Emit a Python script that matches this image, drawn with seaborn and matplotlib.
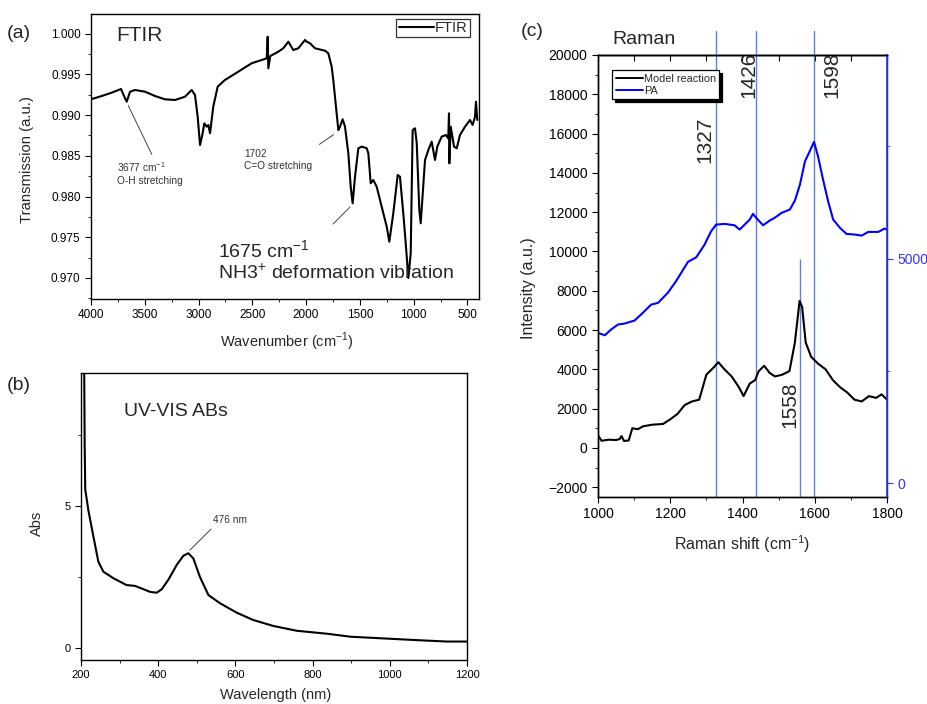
import numpy as np
import pandas as pd
import matplotlib
matplotlib.use("Agg")
import matplotlib.pyplot as plt
from matplotlib.ticker import MultipleLocator, FormatStrFormatter
from matplotlib.lines import Line2D
import seaborn as sns

# ---------------- data ----------------
ftir_wavenumber = [4000, 3900, 3808, 3721, 3690, 3668, 3637, 3591, 3498, 3405, 3312, 3219, 3126,
                   3064, 3033, 3008, 2986, 2965, 2946, 2924, 2909, 2893, 2863, 2822, 2754, 2630,
                   2506, 2413, 2366, 2357, 2351, 2333, 2258, 2212, 2165, 2119, 2072, 2010, 1994,
                   1963, 1917, 1824, 1793, 1762, 1747, 1722, 1700, 1685, 1660, 1638, 1607, 1585,
                   1567, 1545, 1514, 1483, 1436, 1421, 1399, 1375, 1343, 1297, 1250, 1226, 1189,
                   1148, 1127, 1096, 1071, 1049, 1027, 1009, 987, 971, 947, 934, 915, 894, 863,
                   832, 801, 780, 739, 699, 678, 671, 668, 655, 624, 599, 569, 522, 476, 451,
                   429, 420, 408]
ftir_transmission = [0.99195, 0.99235, 0.99276, 0.99321, 0.99226, 0.99165, 0.99288, 0.99309,
                     0.99288, 0.99235, 0.99194, 0.99186, 0.99226, 0.99309, 0.99247, 0.98981,
                     0.98633, 0.98756, 0.98899, 0.98858, 0.98879, 0.98777, 0.99104, 0.99350,
                     0.99432, 0.99534, 0.99637, 0.99677, 0.99698, 0.99963, 0.99575, 0.99726,
                     0.99779, 0.99821, 0.99902, 0.99800, 0.99821, 0.99923, 0.99902, 0.99882,
                     0.99821, 0.99791, 0.99759, 0.99595, 0.99431, 0.99104, 0.98817, 0.98858,
                     0.98949, 0.98858, 0.98531, 0.98120, 0.97917, 0.98244, 0.98593, 0.98613,
                     0.98593, 0.98531, 0.98163, 0.98203, 0.98120, 0.97875, 0.97630, 0.97446,
                     0.97794, 0.98265, 0.98244, 0.97794, 0.97384, 0.97000, 0.97303, 0.98817,
                     0.98838, 0.98654, 0.97835, 0.97672, 0.98040, 0.98449, 0.98572, 0.98674,
                     0.98449, 0.98613, 0.98736, 0.98756, 0.98715, 0.99022, 0.98408, 0.98858,
                     0.98613, 0.98593, 0.98756, 0.98858, 0.98940, 0.98879, 0.98981, 0.99165,
                     0.98940]

uv_wavelength = [208, 209.5, 211, 219, 232, 245, 258, 284, 318, 340, 357, 379, 396, 409, 426,
                 448, 465, 478, 491, 508, 530, 560, 603, 646, 698, 759, 841, 898, 984, 1070,
                 1148, 1200]
uv_abs = [10.5, 7.2, 5.6, 4.87, 3.95, 3.05, 2.70, 2.47, 2.23, 2.20, 2.11, 1.99, 1.96, 2.08, 2.41,
          2.94, 3.26, 3.35, 3.17, 2.52, 1.88, 1.59, 1.26, 1.00, 0.79, 0.62, 0.51, 0.41, 0.35,
          0.29, 0.24, 0.24]

raman_shift_model = [1000, 1010, 1030, 1050, 1060, 1065, 1072, 1085, 1095, 1110, 1125, 1150,
                     1180, 1200, 1220, 1240, 1260, 1280, 1300, 1320, 1333, 1350, 1370, 1390,
                     1403, 1420, 1435, 1445, 1460, 1475, 1490, 1510, 1530, 1545, 1558, 1565,
                     1575, 1590, 1610, 1630, 1650, 1670, 1690, 1710, 1730, 1750, 1770, 1785, 1800]
raman_model = [636, 364, 418, 400, 450, 600, 350, 380, 1000, 950, 1100, 1180, 1218, 1454, 1727,
               2181, 2363, 2454, 3727, 4090, 4363, 4000, 3636, 3090, 2636, 3272, 3454, 3909,
               4181, 3818, 3636, 3727, 3909, 5363, 7480, 7181, 5363, 4636, 4272, 4000, 3454,
               3090, 2818, 2454, 2363, 2636, 2545, 2727, 2454]

raman_shift_pa = [1000, 1019, 1036, 1055, 1073, 1101, 1124, 1147, 1166, 1193, 1216, 1249, 1272,
                  1295, 1313, 1327, 1351, 1378, 1392, 1406, 1420, 1429, 1438, 1457, 1475, 1489,
                  1508, 1531, 1545, 1559, 1573, 1584, 1598, 1609, 1623, 1637, 1651, 1670, 1688,
                  1711, 1730, 1748, 1776, 1793, 1800]
raman_pa = [3346, 3293, 3420, 3531, 3553, 3620, 3791, 3975, 4013, 4235, 4494, 4925, 5027, 5309,
            5605, 5754, 5769, 5738, 5643, 5754, 5865, 5992, 5903, 5738, 5843, 5903, 6014, 6087,
            6287, 6643, 7161, 7348, 7592, 7272, 6754, 6272, 5865, 5680, 5547, 5532, 5509, 5591,
            5591, 5665, 5643]

peak_positions = [1327, 1436, 1598]
peak_labels = ["1327", "1426", "1598"]
peak_1558 = 1558

# ---------------- style ----------------
sns.set_style("ticks")
plt.rcParams['font.family'] = ['Liberation Sans', 'DejaVu Sans']
plt.rcParams['mathtext.fontset'] = 'custom'
plt.rcParams['mathtext.rm'] = 'Liberation Sans'
plt.rcParams['axes.edgecolor'] = 'black'
plt.rcParams['axes.linewidth'] = 1.0
plt.rcParams['xtick.color'] = 'black'
plt.rcParams['ytick.color'] = 'black'

fig = plt.figure(figsize=(9.27, 7.04), dpi=100)
W, H = 927, 704

def axes_px(l, t, r, b):
    return fig.add_axes([l / W, 1 - b / H, (r - l) / W, (b - t) / H])

# ---------------- (a) FTIR ----------------
ax_a = axes_px(91, 14, 479, 299)
df_f = pd.DataFrame({"x": ftir_wavenumber, "y": ftir_transmission})
sns.lineplot(data=df_f, x="x", y="y", ax=ax_a, color="black", lw=1.5, label="FTIR", sort=False)
ax_a.set_xlim(4000, 392)
ax_a.set_ylim(0.96742, 1.00242)
ax_a.xaxis.set_major_locator(MultipleLocator(500))
ax_a.xaxis.set_minor_locator(MultipleLocator(250))
ax_a.yaxis.set_major_locator(MultipleLocator(0.005))
ax_a.yaxis.set_minor_locator(MultipleLocator(0.0025))
ax_a.yaxis.set_major_formatter(FormatStrFormatter('%.3f'))
ax_a.tick_params(which='both', direction='out', labelsize=8.5, length=4)
ax_a.tick_params(which='minor', length=2.5)
ax_a.set_xlabel("Wavenumber (cm$^{-1}$)", fontsize=10.5)
ax_a.set_ylabel("Transmission (a.u.)", fontsize=10.7)
ax_a.xaxis.set_label_coords(0.505, -0.110)
ax_a.yaxis.set_label_coords(-0.147, 0.488)
leg_a = ax_a.legend(loc='upper right', bbox_to_anchor=(0.977, 0.983), borderaxespad=0,
                    fancybox=False, edgecolor='black', fontsize=10.5, handlelength=2.4,
                    borderpad=0.15, handletextpad=0.1)
leg_a.get_frame().set_linewidth(0.9)
ax_a.text(0.064, 0.923, "FTIR", transform=ax_a.transAxes, fontsize=15, va='center')
ax_a.annotate("", xy=(3665, 0.99149), xytext=(3423, 0.98486),
              arrowprops=dict(arrowstyle='-', color='#444444', lw=0.7))
ax_a.text(3758, 0.98449, "3677 cm$^{-1}$\nO-H stretching", fontsize=7.3, va='top', ha='left',
          color='#333333', linespacing=1.3)
ax_a.annotate("", xy=(1722, 0.98781), xytext=(1898, 0.98621),
              arrowprops=dict(arrowstyle='-', color='#444444', lw=0.7))
ax_a.text(2577, 0.98584, "1702\nC=O stretching", fontsize=7.3, va='top', ha='left',
          color='#333333', linespacing=1.3)
ax_a.annotate("", xy=(1573, 0.97896), xytext=(1768, 0.97638),
              arrowprops=dict(arrowstyle='-', color='#444444', lw=0.7))
ax_a.text(2819, 0.97467, "1675 cm$^{-1}$\nNH3$^{+}$ deformation vibration", fontsize=14,
          va='top', ha='left', linespacing=1.0)
fig.text(7 / W, 1 - 33 / H, "(a)", fontsize=14, va='center')

# ---------------- (b) UV-VIS ----------------
ax_b = axes_px(81, 373, 467, 660)
df_u = pd.DataFrame({"x": uv_wavelength, "y": uv_abs})
sns.lineplot(data=df_u, x="x", y="y", ax=ax_b, color="black", lw=1.5)
ax_b.set_xlim(200, 1200)
ax_b.set_ylim(-0.41, 9.7)
ax_b.xaxis.set_major_locator(MultipleLocator(200))
ax_b.xaxis.set_minor_locator(MultipleLocator(100))
ax_b.yaxis.set_major_locator(MultipleLocator(5))
ax_b.yaxis.set_minor_locator(MultipleLocator(2.5))
ax_b.tick_params(which='both', direction='out', labelsize=8, length=4)
ax_b.tick_params(which='minor', length=2.5)
ax_b.set_xlabel("Wavelength (nm)", fontsize=10.5)
ax_b.set_ylabel("Abs", fontsize=10.5)
ax_b.xaxis.set_label_coords(0.503, -0.098)
ax_b.yaxis.set_label_coords(-0.096, 0.477)
ax_b.text(311, 8.36, "UV-VIS ABs", fontsize=14, va='center')
ax_b.annotate("", xy=(477, 3.39), xytext=(542, 4.27),
              arrowprops=dict(arrowstyle='-', color='#444444', lw=0.7))
ax_b.text(542, 4.52, "476 nm", fontsize=7.3, va='center', ha='left', color='#333333')
fig.text(7 / W, 1 - 385 / H, "(b)", fontsize=14, va='center')

# ---------------- (c) Raman ----------------
ax_c = axes_px(598, 55, 887, 497)
ax_c2 = ax_c.twinx()
df_m = pd.DataFrame({"x": raman_shift_model, "y": raman_model})
df_p = pd.DataFrame({"x": raman_shift_pa, "y": raman_pa})
sns.lineplot(data=df_m, x="x", y="y", ax=ax_c, color="black", lw=1.5, legend=False)
sns.lineplot(data=df_p, x="x", y="y", ax=ax_c2, color="#0000ff", lw=1.5, legend=False)
ax_c.set_xlim(1000, 1800)
ax_c.set_ylim(-2500, 20000)
ax_c2.set_ylim(-302, 9524)
ax_c.xaxis.set_major_locator(MultipleLocator(200))
ax_c.xaxis.set_minor_locator(MultipleLocator(100))
ax_c.yaxis.set_major_locator(MultipleLocator(2000))
ax_c.yaxis.set_minor_locator(MultipleLocator(1000))
ax_c.tick_params(which='both', direction='out', labelsize=10, length=4)
ax_c.tick_params(which='minor', length=2.5)
ax_c2.yaxis.set_major_locator(MultipleLocator(5000))
ax_c2.yaxis.set_minor_locator(MultipleLocator(2500))
ax_c2.tick_params(axis='y', which='both', direction='out', colors='#3333ff', labelsize=10,
                  length=4)
ax_c2.tick_params(axis='y', which='minor', length=2.5)
ax_c2.spines['right'].set_color('#3333ff')
ax_c2.spines['right'].set_linewidth(1.2)
ax_c2.set_ylabel("")
ax_c.set_xlabel("Raman shift (cm$^{-1}$)", fontsize=11.5)
ax_c.set_ylabel("Intensity (a.u.)", fontsize=11.5)
ax_c.xaxis.set_label_coords(0.498, -0.083)
ax_c.yaxis.set_label_coords(-0.213, 0.472)
sec = ax_c.secondary_xaxis('top')
sec.xaxis.set_major_locator(MultipleLocator(100))
sec.tick_params(axis='x', direction='in', length=4, labeltop=False)
sec.set_xticklabels([])

vline_color = '#5b82d8'
for xp in peak_positions:
    ax_c.axvline(xp, ymin=0, ymax=1.054, color=vline_color, lw=1.0, clip_on=False, zorder=1)
ax_c.vlines(peak_1558, -2500, 9630, color=vline_color, lw=1.0, zorder=1)
ax_c.text(1296, 15695, peak_labels[0], rotation=90, fontsize=15, ha='center', va='center')
ax_c.text(1419, 18977, peak_labels[1], rotation=90, fontsize=15, ha='center', va='center')
ax_c.text(1647, 18977, peak_labels[2], rotation=90, fontsize=15, ha='center', va='center')
ax_c.text(1531, 2183, "1558", rotation=90, fontsize=15, ha='center', va='center')

handles = [Line2D([], [], color='black', lw=1.4), Line2D([], [], color='#0000ff', lw=1.4)]
leg_c = ax_c.legend(handles, ["Model reaction", "PA"], loc='upper left',
                    bbox_to_anchor=(0.05, 0.965), borderaxespad=0, fancybox=False,
                    edgecolor='black', fontsize=7.8, handlelength=2.5, handletextpad=0.1,
                    borderpad=0.3, labelspacing=0.2,
                    shadow={'color': 'black', 'alpha': 1.0})
leg_c.get_frame().set_linewidth(0.9)
leg_c.get_frame().set_alpha(1)
leg_c.set_zorder(5)
fig.text(612 / W, 1 - 39 / H, "Raman", fontsize=14, va='center')
fig.text(521 / W, 1 - 31 / H, "(c)", fontsize=14, va='center')

fig.savefig("out.png", dpi=100)
